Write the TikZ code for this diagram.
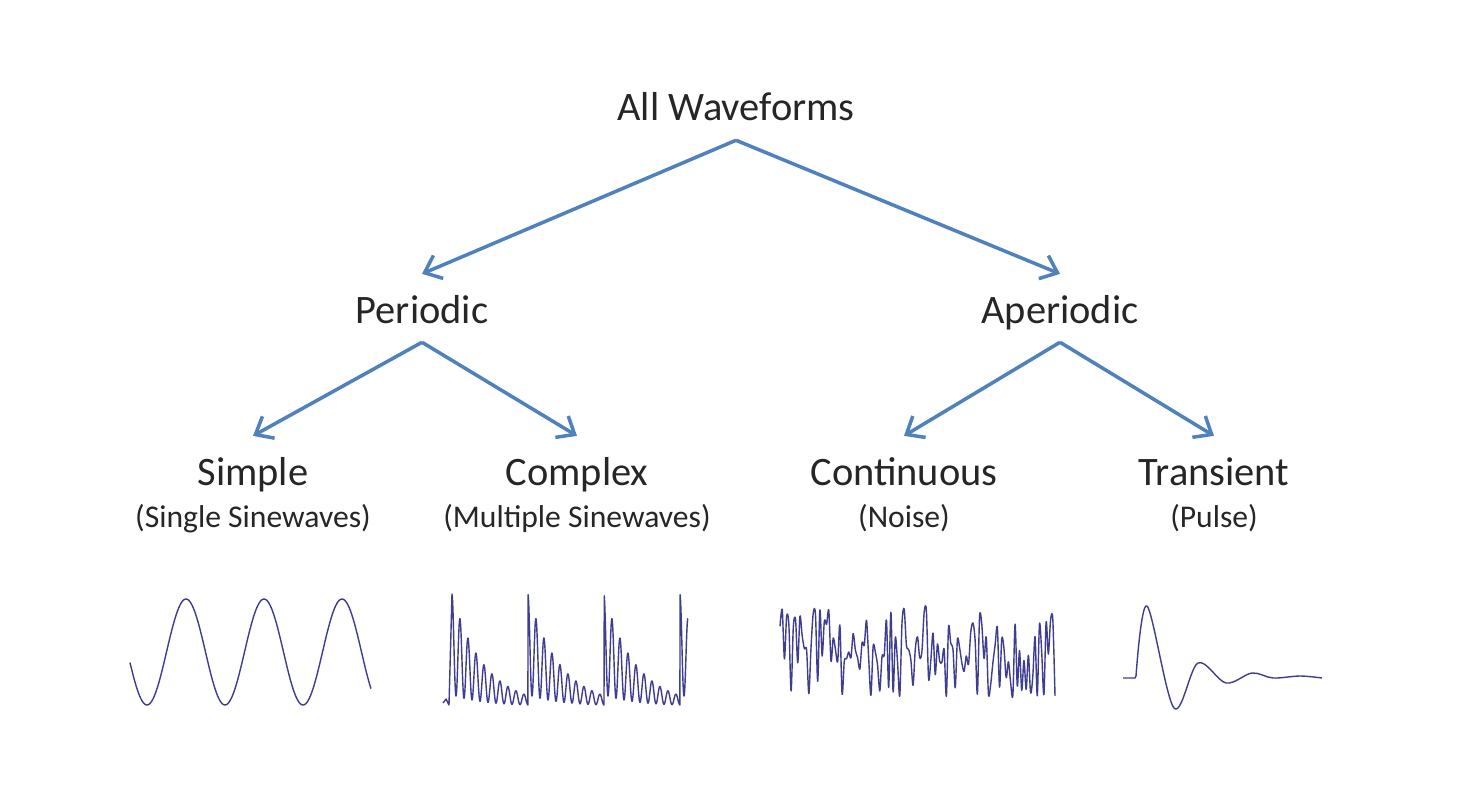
\documentclass[tikz,border=0pt]{standalone}
\usepackage{fontspec}
\setmainfont{Carlito}
\usetikzlibrary{arrows.meta}
\definecolor{arrowblue}{RGB}{79,129,189}
\definecolor{wavenavy}{RGB}{62,62,145}
\definecolor{labelgray}{RGB}{38,38,38}

\begin{document}
\begin{tikzpicture}[x=0.02cm, y=-0.02cm,
    lbl/.style={font=\fontsize{23}{27}\selectfont, text=labelgray, anchor=base,
        inner sep=0pt, outer sep=0.28cm, text height=20pt, text depth=3pt},
    sublbl/.style={font=\fontsize{18}{22}\selectfont, text=labelgray, anchor=base, inner sep=0pt},
    branch/.style={arrowblue, line width=2pt, -{Straight Barb[length=3mm, width=5mm]}},
    wave/.style={wavenavy, line width=0.8pt, line join=round}]
    % Canvas
    \fill[white] (0,0) rectangle (1464,804);

    % Tree labels
    \node[lbl] (root) at (736,121) {All Waveforms};
    \node[lbl] (periodic) at (422,323) {Periodic};
    \node[lbl] (aperiodic) at (1060,323) {Aperiodic};
    \node[lbl] (simple) at (253,485) {Simple};
    \node[lbl] (complex) at (577,485) {Complex};
    \node[lbl] (continuous) at (904,485) {Continuous};
    \node[lbl] (transient) at (1214,485) {Transient};

    % Sub labels
    \node[sublbl] (simplesub) at (253,527) {(Single Sinewaves)};
    \node[sublbl] (complexsub) at (577,527) {(Multiple Sinewaves)};
    \node[sublbl] (continuoussub) at (904,527) {(Noise)};
    \node[sublbl] (transientsub) at (1214,527) {(Pulse)};

    % Branches
    \draw[branch] (root.south) -- (periodic.north);
    \draw[branch] (root.south) -- (aperiodic.north);
    \draw[branch] (periodic.south) -- (simple.north);
    \draw[branch] (periodic.south) -- (complex.north);
    \draw[branch] (aperiodic.south) -- (continuous.north);
    \draw[branch] (aperiodic.south) -- (transient.north);

    % Sinewave
    \draw[wave] plot[domain=130:371, samples=200] (\x, {652 + 53*cos((\x-147)*4.615)});

    % Multiple sinewaves
    \draw[wave] (443,703) -- (446,699) -- (449,705) --
        plot[domain=452:688, samples=900] (\x, {706 - 112*exp(-mod(\x-452,76)/32)*(0.55+0.45*cos(45*mod(\x-452,76)))});

    % Noise
    \pgfmathsetseed{17}
    \draw[wave] plot[domain=780:1055, samples=125, smooth, tension=0.5] (\x, {653 + 44*rand});

    % Pulse
    \draw[wave] (1123,678) -- (1135,678) -- plot[smooth, tension=0.55] coordinates {(1136,676) (1147,606) (1174,708)
        (1198,663) (1226,683) (1252,673) (1273,678) (1300,676) (1322,678)};
\end{tikzpicture}
\end{document}
